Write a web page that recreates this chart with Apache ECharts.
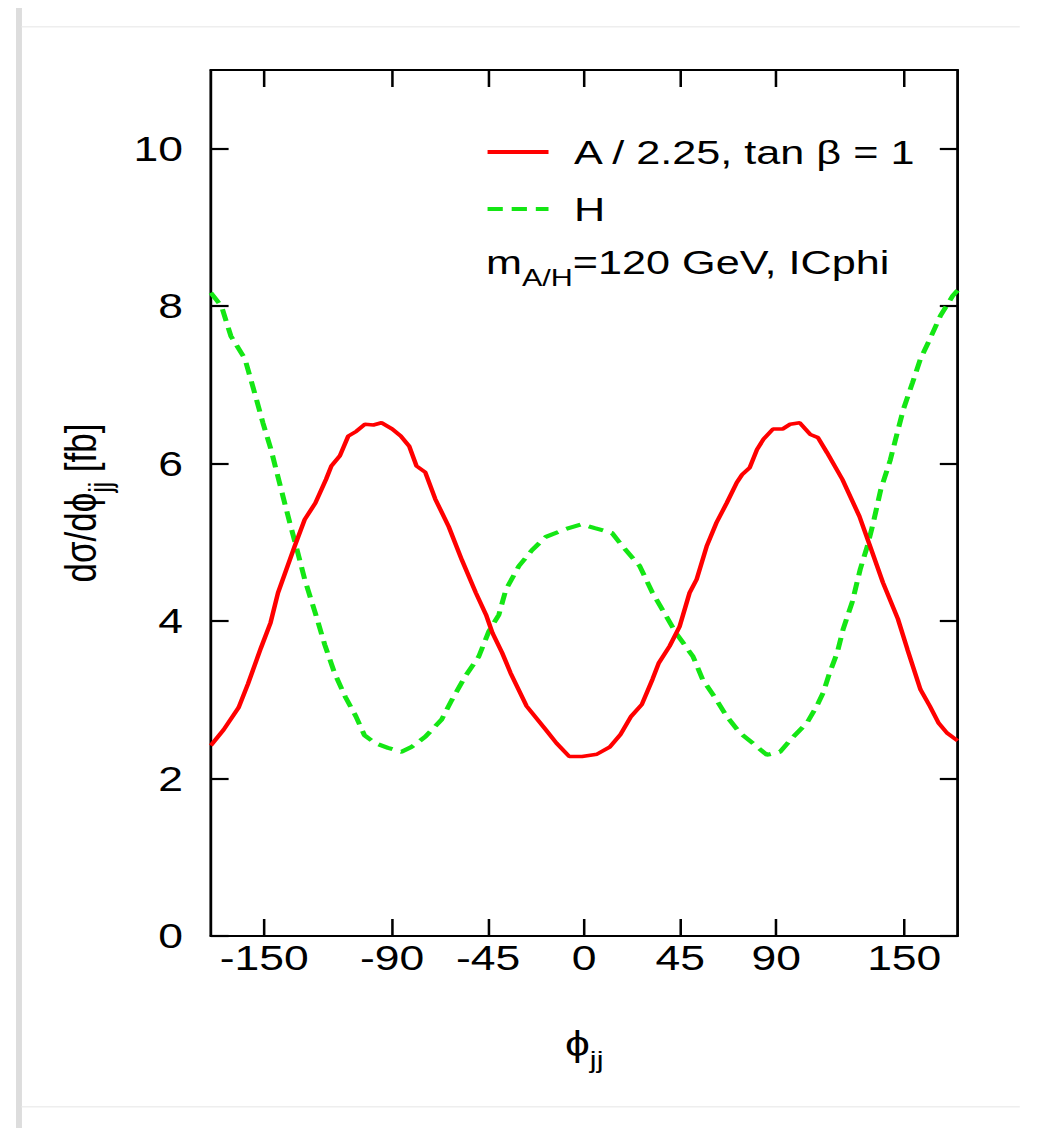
<!DOCTYPE html>
<html><head><meta charset="utf-8">
<script src="https://cdn.jsdelivr.net/npm/echarts@6/dist/echarts.min.js"></script>
<style>
html,body{margin:0;padding:0;background:#fff;overflow:hidden;width:1039px;height:1128px;}
#c{width:818px;height:1128px;transform:scaleX(1.27);transform-origin:0 0;}
</style></head><body><div id="c"></div>
<script>
// Series A / 2.25 (red, solid)
const phiA = [-175,-169,-162,-157.6,-151.5,-147,-143.5,-135.7,-131,-126,-121,-118.5,-114.5,-110.6,-106.8,-102.8,-98.8,-95,-90,-86,-82,-78.6,-74.5,-69.8,-63.5,-57.4,-50.8,-46,-43,-38.5,-34.5,-27,-18,-13,-7,-1,6,12,17,22,27,32,35,40,44.7,49.4,52.7,57.4,62,66.8,71.5,74,77.6,81,84,88.5,93,96.5,101,106,109.6,113.8,121,129,134,140,147,151.5,157.6,162,166,170,175];
const valA = [2.42,2.62,2.9,3.2,3.66,3.98,4.36,4.95,5.29,5.5,5.8,5.97,6.1,6.35,6.41,6.5,6.49,6.52,6.44,6.35,6.22,5.97,5.89,5.55,5.2,4.78,4.36,4.08,3.85,3.6,3.34,2.92,2.62,2.45,2.28,2.28,2.31,2.4,2.56,2.79,2.94,3.26,3.47,3.68,3.93,4.36,4.53,4.95,5.25,5.5,5.76,5.86,5.95,6.18,6.31,6.44,6.44,6.5,6.52,6.37,6.33,6.14,5.8,5.33,4.95,4.49,4.03,3.64,3.13,2.92,2.71,2.58,2.48];
// Series H (green, dashed)
const phiH = [-175,-170,-165.6,-159,-155,-150.6,-146.8,-142,-138,-135,-131,-126,-121.6,-117,-112,-107,-103,-98,-92,-85.6,-81,-74.5,-66.8,-62,-55.7,-49.4,-44.7,-40,-36.7,-30.6,-24.5,-18,-8.5,-1,5,13,18,26,32,38.5,43,51,55.5,62,66.8,73,79,85.6,91.8,98,104.5,109,112,115,118.6,121.4,125.6,129.4,132.7,135.5,139,143.5,146.8,149.6,153.9,157.6,162,167,172.7,175];
const valH = [8.17,8.0,7.62,7.33,6.95,6.52,6.18,5.67,5.25,4.95,4.53,4.1,3.7,3.34,3.04,2.79,2.55,2.45,2.39,2.34,2.4,2.53,2.75,3.0,3.3,3.55,3.87,4.08,4.4,4.7,4.9,5.07,5.17,5.23,5.18,5.12,4.95,4.7,4.36,4.06,3.85,3.55,3.26,3.0,2.79,2.58,2.45,2.3,2.34,2.53,2.71,2.92,3.09,3.34,3.6,3.9,4.24,4.66,4.95,5.25,5.67,6.05,6.4,6.69,7.03,7.33,7.58,7.88,8.13,8.2];
const xTicks = [-150,-90,-45,0,45,90,150];
const yTicks = [0,2,4,6,8,10];
const seriesNames = ['A / 2.25, tan \u03b2 = 1', 'H'];

const FONT = "'Liberation Sans', Arial, Helvetica, sans-serif";
const dataA = phiA.map((p,i)=>[p,valA[i]]);
const dataH = phiH.map((p,i)=>[p,valH[i]]);

const chart = echarts.init(document.getElementById('c'), null, {renderer:'svg'});
const axisLine = {show:true, onZero:false, lineStyle:{color:'#000', width:2.2}};
const tickX = {show:true, inside:true, length:17, customValues:xTicks, lineStyle:{color:'#000', width:2}};
const tickY = {show:true, inside:true, length:14, customValues:yTicks, lineStyle:{color:'#000', width:2.2}};
const subRich = {
  n:{fontSize:35, fontFamily:FONT, color:'#000', verticalAlign:'middle'},
  sub:{fontSize:24, fontFamily:FONT, color:'#000', lineHeight:56, verticalAlign:'bottom'}
};
chart.setOption({
  animation:false,
  backgroundColor:'#fff',
  grid:{left:166, right:64, top:70, bottom:192, show:false},
  xAxis:[{
    type:'value', min:-175, max:175, position:'bottom',
    axisLine, axisTick:tickX, splitLine:{show:false},
    axisLabel:{customValues:xTicks, fontSize:35, fontFamily:FONT, color:'#000', margin:4},
    name:'{n|\u03d5}{sub|jj}', nameLocation:'middle', nameGap:80,
    nameTextStyle:{rich:subRich}
  },{
    type:'value', min:-175, max:175, position:'top',
    axisLine, axisTick:tickX, splitLine:{show:false}, axisLabel:{show:false}
  }],
  yAxis:[{
    type:'value', min:0, max:11, position:'left',
    axisLine, axisTick:tickY, splitLine:{show:false},
    axisLabel:{customValues:yTicks, fontSize:35, fontFamily:FONT, color:'#000', margin:22},
    name:'{n|d\u03c3/d\u03d5}{sub|jj}{n| [fb]}', nameLocation:'middle', nameGap:75, nameRotate:90,
    nameTextStyle:{rich:subRich}
  },{
    type:'value', min:0, max:11, position:'right',
    axisLine, axisTick:tickY, splitLine:{show:false}, axisLabel:{show:false}
  }],
  legend:{
    orient:'vertical', left:382, top:132, padding:0, itemWidth:48, itemHeight:20, itemGap:17,
    data:seriesNames,
    itemStyle:{opacity:0},
    lineStyle:{width:3.8},
    textStyle:{fontSize:34, fontFamily:FONT, color:'#000', lineHeight:40, padding:[0,0,0,15]}
  },
  graphic:[
    {type:'rect', left:12.6, top:8, shape:{width:4.7, height:1120}, style:{fill:'#dddddd'}, silent:true},
    {type:'rect', left:17, top:26, shape:{width:786, height:1.5}, style:{fill:'#eeeeee'}, silent:true},
    {type:'rect', left:17, top:1106, shape:{width:786, height:1.5}, style:{fill:'#eeeeee'}, silent:true},
    {type:'text', left:382.7, top:245, silent:true,
     style:{text:'{n|m}{sub|A/H}{n|=120 GeV, ICphi}', rich:{
       n:{fontSize:34, fontFamily:FONT, fill:'#000', verticalAlign:'middle'},
       sub:{fontSize:24, fontFamily:FONT, fill:'#000', lineHeight:56, verticalAlign:'bottom'}
     }}}
  ],
  series:[
    {name:seriesNames[0], type:'line', data:dataA, symbol:'none', showSymbol:false,
     lineStyle:{color:'#ff0000', width:3.6}, itemStyle:{color:'#ff0000'}, z:3},
    {name:seriesNames[1], type:'line', data:dataH, symbol:'none', showSymbol:false,
     lineStyle:{color:'#14e614', width:4, type:[12,7]}, itemStyle:{color:'#14e614'}, z:2}
  ]
});
</script></body></html>
